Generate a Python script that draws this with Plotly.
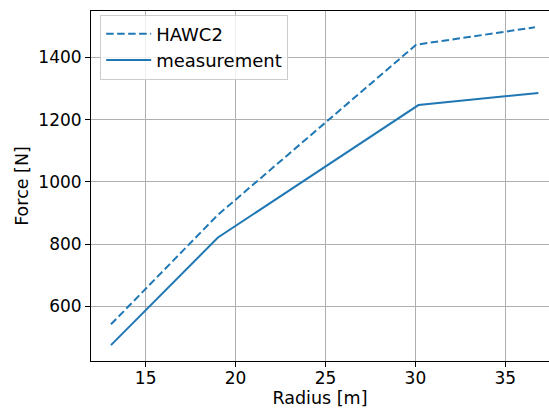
import plotly.graph_objects as go

# Data
hawc2_radius = [13.07, 19.0, 30.04, 36.65]
hawc2_force = [542, 893, 1441, 1497]
meas_radius = [13.07, 19.02, 30.17, 36.84]
meas_force = [475, 821, 1247, 1286]

x_ticks = [15, 20, 25, 30, 35]
y_ticks = [600, 800, 1000, 1200, 1400]

color = "#1f77b4"
font_family = "DejaVu Sans"

fig = go.Figure()
fig.add_trace(go.Scatter(
    x=hawc2_radius, y=hawc2_force, mode="lines", name="HAWC2", legendgroup="a",
    line=dict(color=color, width=2, dash="7.5px,3.5px"),
))
fig.add_trace(go.Scatter(
    x=meas_radius, y=meas_force, mode="lines", name="measurement", legendgroup="b",
    line=dict(color=color, width=2),
))

axis_common = dict(
    showgrid=True, gridcolor="#b0b0b0", gridwidth=1,
    zeroline=False, showline=True, linecolor="black", linewidth=1,
    ticks="outside", ticklen=5, tickwidth=1, tickcolor="black",
    tickfont=dict(family=font_family, size=17, color="black"),
)

fig.update_layout(
    width=549, height=410,
    margin=dict(l=91, r=0, t=11, b=49),
    paper_bgcolor="white", plot_bgcolor="white",
    font=dict(family=font_family, color="black"),
    xaxis=dict(
        range=[11.96, 37.43], tickvals=x_ticks, mirror=True, ticklabelstandoff=-3,
        title=dict(text="Radius [m]", font=dict(size=17.5, family=font_family), standoff=2),
        **axis_common,
    ),
    yaxis=dict(
        range=[424, 1549.5], tickvals=y_ticks, mirror=False,
        title=dict(text="Force [N]", font=dict(size=17.5, family=font_family), standoff=5),
        **axis_common,
    ),
    legend=dict(
        x=0.02, y=0.99, xanchor="left", yanchor="top",
        bgcolor="rgba(255,255,255,0.8)", bordercolor="#cccccc", borderwidth=1,
        font=dict(family=font_family, size=18, color="black"),
        itemwidth=45, tracegroupgap=0,
    ),
    showlegend=True,
)

fig.write_html("out.html")
